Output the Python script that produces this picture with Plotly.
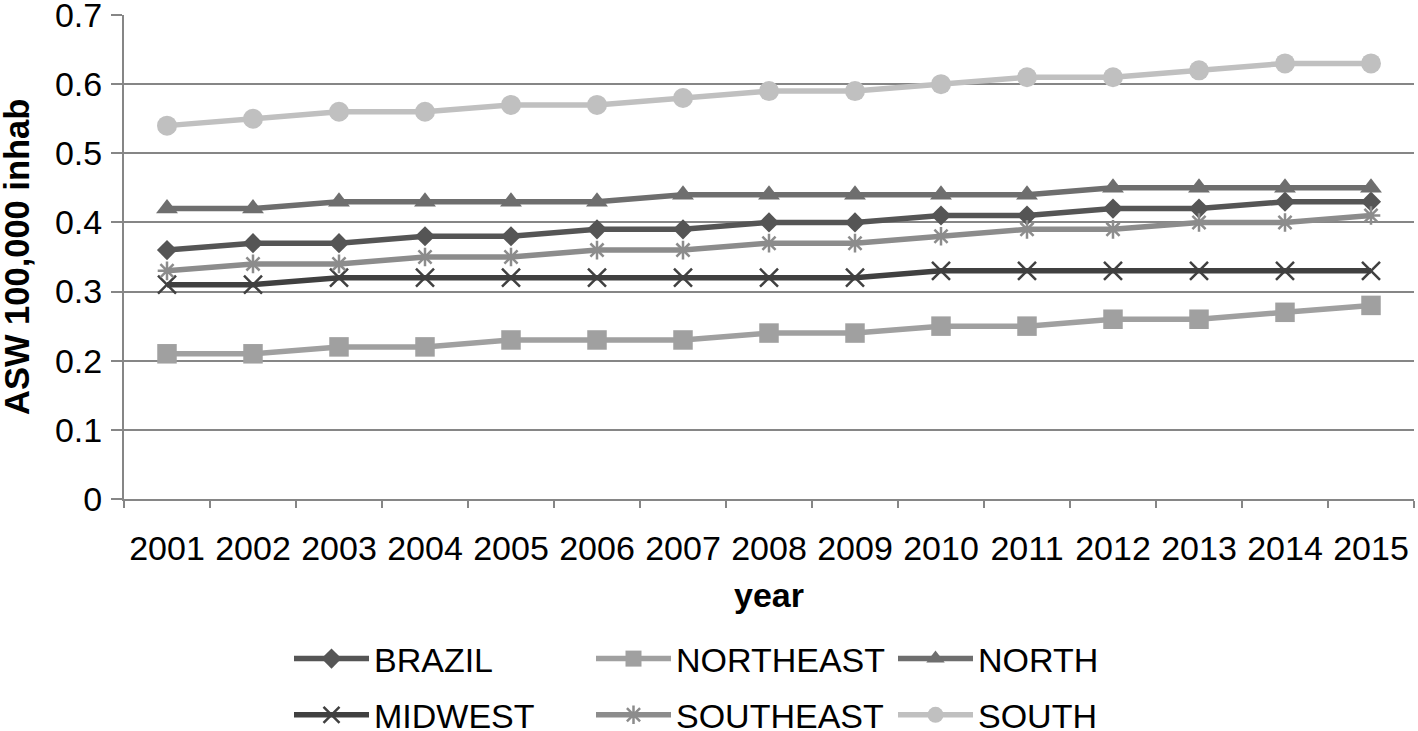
import plotly.graph_objects as go

years = [str(y) for y in range(2001, 2016)]
brazil = [0.36, 0.37, 0.37, 0.38, 0.38, 0.39, 0.39, 0.40, 0.40, 0.41, 0.41, 0.42, 0.42, 0.43, 0.43]
northeast = [0.21, 0.21, 0.22, 0.22, 0.23, 0.23, 0.23, 0.24, 0.24, 0.25, 0.25, 0.26, 0.26, 0.27, 0.28]
north = [0.42, 0.42, 0.43, 0.43, 0.43, 0.43, 0.44, 0.44, 0.44, 0.44, 0.44, 0.45, 0.45, 0.45, 0.45]
midwest = [0.31, 0.31, 0.32, 0.32, 0.32, 0.32, 0.32, 0.32, 0.32, 0.33, 0.33, 0.33, 0.33, 0.33, 0.33]
southeast = [0.33, 0.34, 0.34, 0.35, 0.35, 0.36, 0.36, 0.37, 0.37, 0.38, 0.39, 0.39, 0.40, 0.40, 0.41]
south = [0.54, 0.55, 0.56, 0.56, 0.57, 0.57, 0.58, 0.59, 0.59, 0.60, 0.61, 0.61, 0.62, 0.63, 0.63]
y_ticks = [0, 0.1, 0.2, 0.3, 0.4, 0.5, 0.6, 0.7]
y_ticklabels = ["0", "0.1", "0.2", "0.3", "0.4", "0.5", "0.6", "0.7"]
y_title = "ASW 100,000 inhab"
x_title = "year"

# (name, values, colour, symbol, size, legend column)
series = [
    ("BRAZIL", brazil, "#555555", "diamond", 15.5, "legend"),
    ("MIDWEST", midwest, "#404040", "x-thin", 18, "legend"),
    ("NORTHEAST", northeast, "#a0a0a0", "square", 19.5, "legend2"),
    ("SOUTHEAST", southeast, "#8c8c8c", "asterisk", 15.5, "legend2"),
    ("NORTH", north, "#6e6e6e", "triangle-up", 19, "legend3"),
    ("SOUTH", south, "#c0c0c0", "circle", 20, "legend3"),
]

fig = go.Figure()
for name, vals, col, sym, sz, leg in series:
    thin = sym in ("x-thin", "asterisk")
    fig.add_trace(go.Scatter(
        x=years, y=vals, name=name, mode="lines+markers",
        legend=leg, legendgroup=name,
        line=dict(color=col, width=5.5),
        marker=dict(symbol=sym, size=sz, color=col,
                    line=dict(color=col, width=2.5 if thin else 0)),
    ))

W, H = 1418, 731
font = "Liberation Sans, Arial, sans-serif"
leg_common = dict(orientation="v", xref="container", yref="container",
                  xanchor="left", yanchor="top", y=1 - 630 / H,
                  itemwidth=75, tracegroupgap=9, bgcolor="rgba(0,0,0,0)",
                  font=dict(size=34, family=font))
fig.update_layout(
    width=W, height=H,
    margin=dict(l=124, r=4, t=15, b=232, autoexpand=False),
    plot_bgcolor="white", paper_bgcolor="white",
    font=dict(family=font, size=34, color="black"),
    showlegend=True,
    legend=dict(x=289 / W, **leg_common),
    legend2=dict(x=591 / W, **leg_common),
    legend3=dict(x=893 / W, **leg_common),
    xaxis=dict(
        type="category", showgrid=False, showline=True, linecolor="#868686", linewidth=2,
        ticks="outside", tickson="boundaries", ticklen=7, tickcolor="#868686", tickwidth=2,
        tickfont=dict(size=34), ticklabelstandoff=18, automargin=True,
        title=dict(text="<b>" + x_title + "</b>", font=dict(size=34), standoff=17),
        range=[-0.5, 14.5],
    ),
    yaxis=dict(
        range=[0, 0.7], tickvals=y_ticks, ticktext=y_ticklabels,
        showgrid=True, gridcolor="#868686", gridwidth=2,
        showline=True, linecolor="#868686", linewidth=2, zeroline=False,
        ticks="outside", ticklen=11, tickcolor="#868686", tickwidth=2,
        tickfont=dict(size=34), ticklabelstandoff=2, automargin=True,
        ticklabeloverflow="allow",
    ),
    annotations=[dict(
        text="<b>" + y_title + "</b>", textangle=-90,
        xref="paper", yref="paper", x=(17 - 124) / 1290, y=0.5,
        xanchor="center", yanchor="middle", showarrow=False,
        font=dict(size=34.5, family=font, color="black"),
    )],
)

fig.write_html("out.html", config={"displayModeBar": False},
               post_script="document.body.style.margin='0px';")
